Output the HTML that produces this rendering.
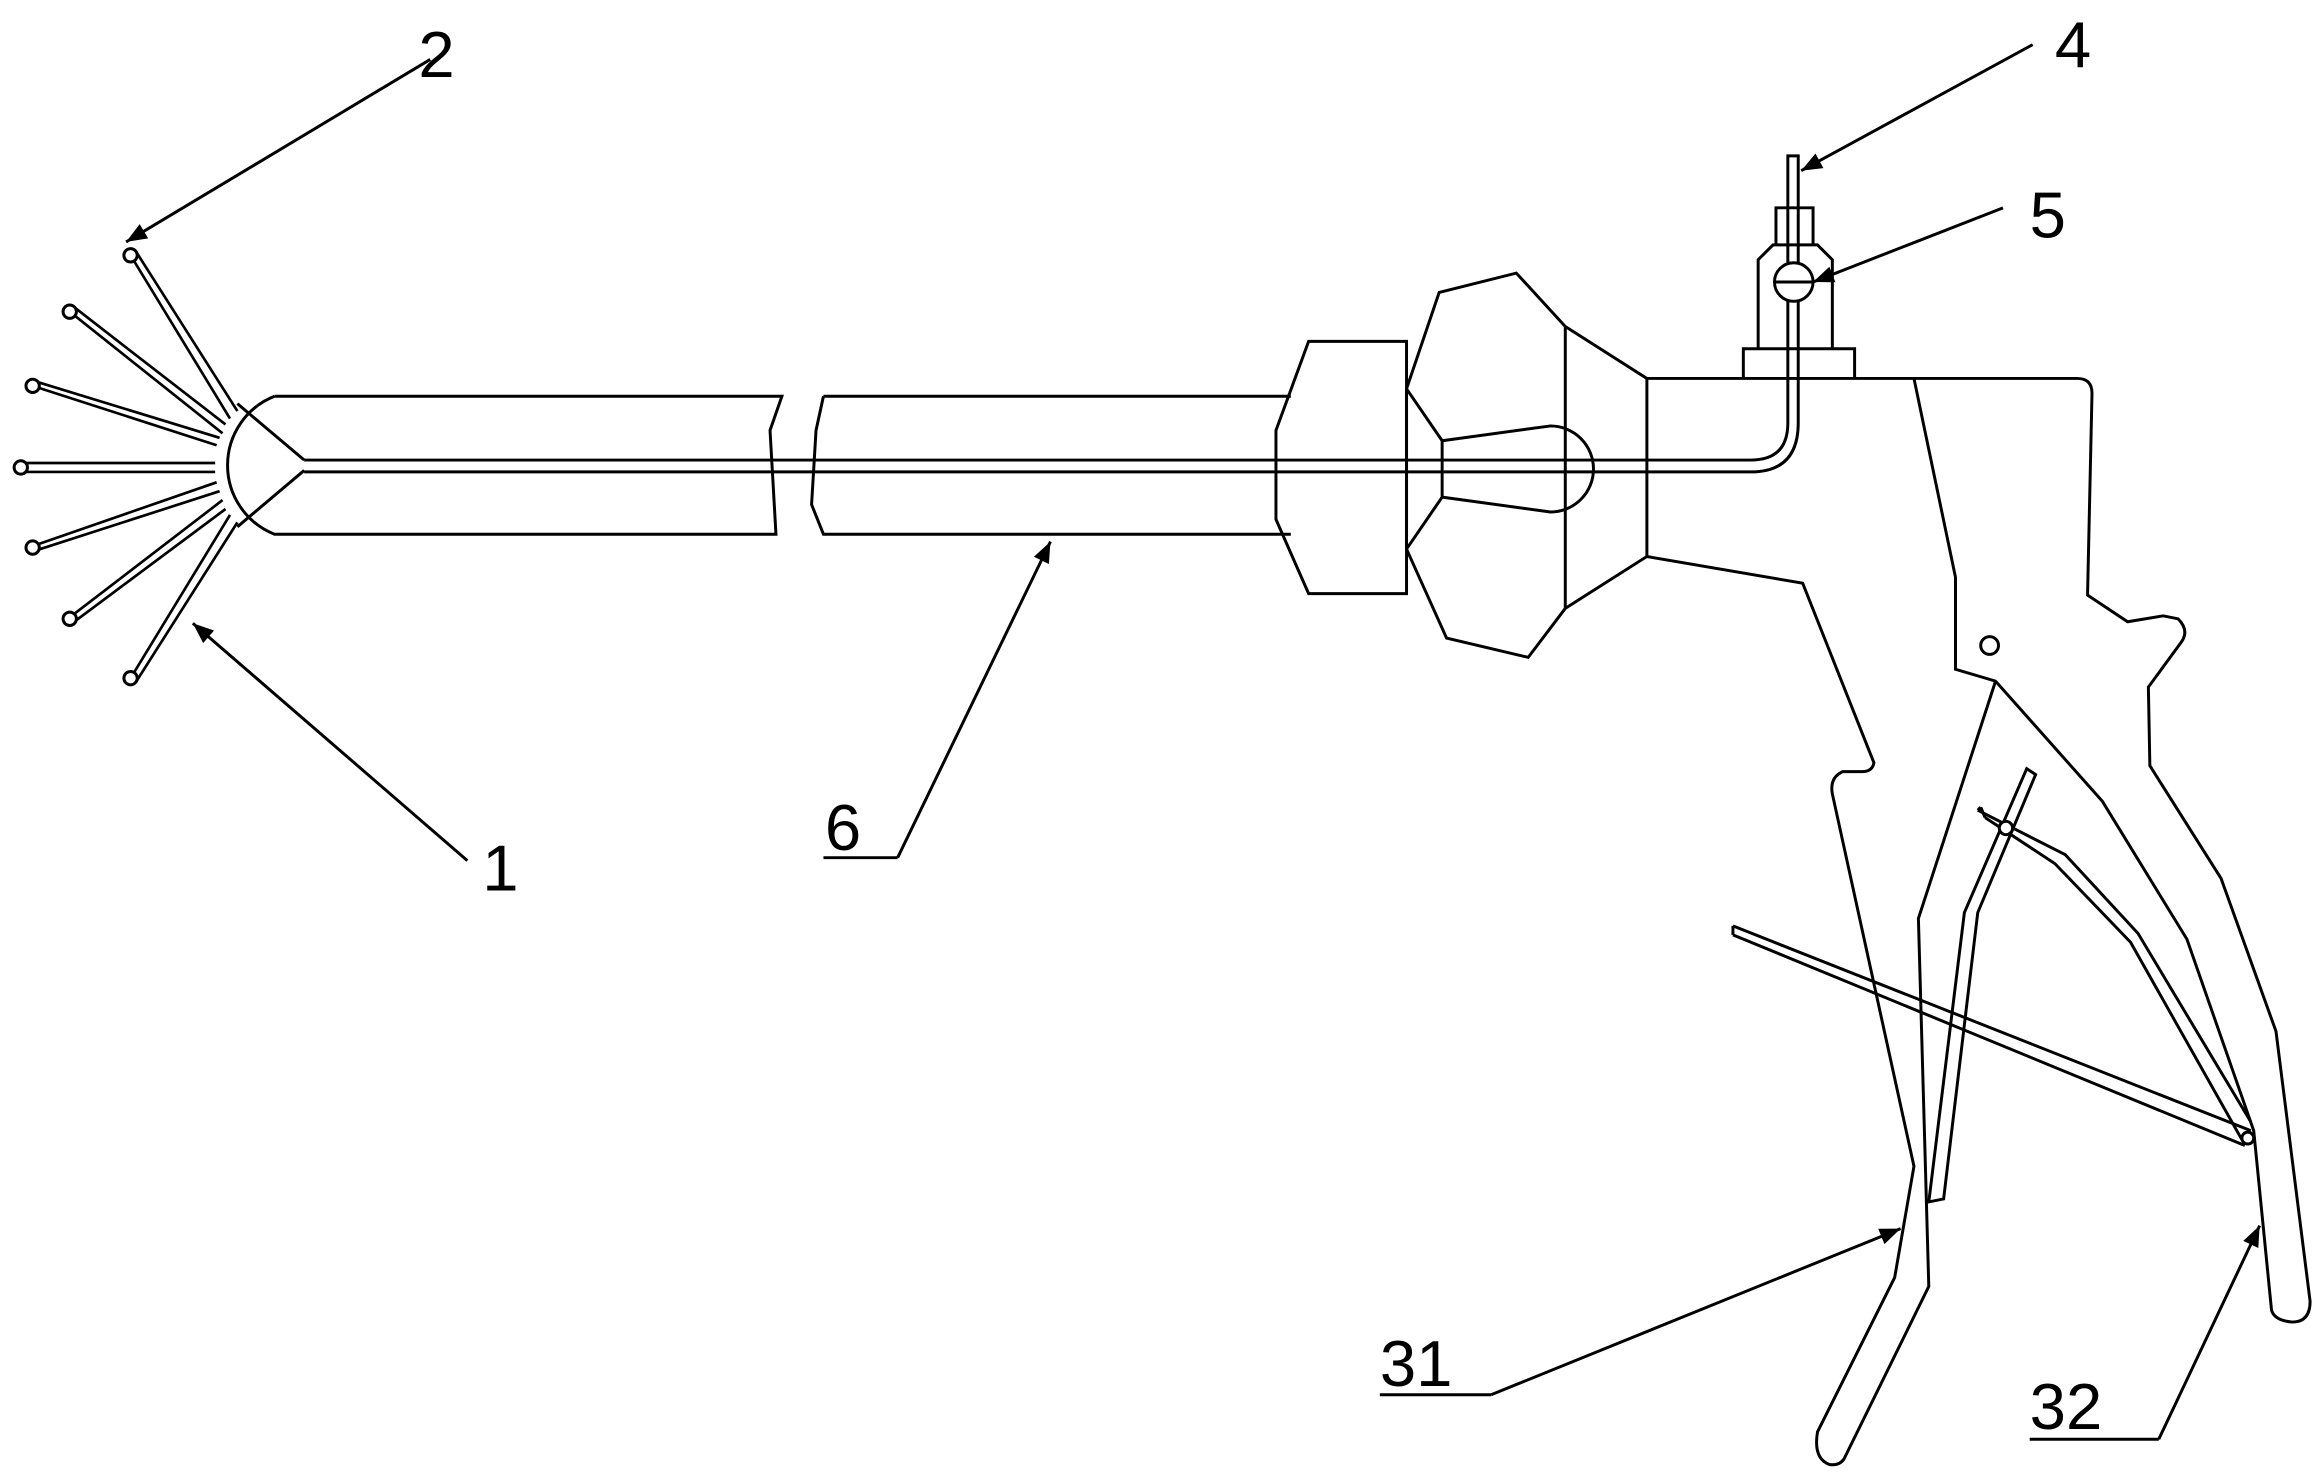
<!DOCTYPE html>
<html><head><meta charset="utf-8"><style>
html,body{margin:0;padding:0;background:#fff;}
svg{display:block}
text{font-family:"Liberation Sans",sans-serif;font-size:44px;fill:#000}
</style></head><body>
<svg width="2319" height="1475" viewBox="0 0 1563 994" xmlns="http://www.w3.org/2000/svg">
<defs><marker id="b" viewBox="0 0 10 10" refX="10" refY="5" markerWidth="24" markerHeight="14" orient="auto" markerUnits="userSpaceOnUse"><path d="M0,1 L10,5 L0,9 z" fill="#000"/></marker></defs>
<g fill="none" stroke="#000" stroke-width="2">
<!-- tube -->
<path d="M185,267 L527,267 L519,290 L523,360 L185,360 A50,50 0 0 1 185,267"/>
<path d="M555,267 L870,267 M870,360 L555,360 L547,340 L550,290 L555,267"/>
<path d="M160,272 L205,310 M160,355 L205,317"/>
<path d="M205,310 L1180,310 Q1205,310 1205,285 L1205,105 L1212,105 L1212,285 Q1212,318 1180,318 L205,318"/>
<!-- wires -->
<g stroke-width="1.8">
<path d="M155,282 L88,172 M160,277 L92,170"/>
<path d="M150,292 L47,210 M152,286 L50,207"/>
<path d="M146,300 L22,260 M148,295 L24,257"/>
<path d="M145,312 L14,312 M145,318 L14,318"/>
<path d="M146,325 L22,368 M148,331 L24,371"/>
<path d="M150,337 L47,416 M152,343 L50,419"/>
<path d="M155,347 L88,457 M160,352 L92,459"/>
</g>
<g fill="#fff"><circle cx="88" cy="172" r="4.5"/><circle cx="47" cy="210" r="4.5"/><circle cx="22" cy="260" r="4.5"/><circle cx="14" cy="315" r="4.5"/><circle cx="22" cy="369" r="4.5"/><circle cx="47" cy="417" r="4.5"/><circle cx="88" cy="457" r="4.5"/></g>
<!-- collar -->
<path d="M882,230 L948,230 L948,400 L882,400 L860,350 L860,290 Z"/>
<!-- knob -->
<path d="M970,197 L1022,184 L1055,220 L1110,255 L1110,375 L1055,410 L1030,443 L975,430 L948,370 L948,262 Z"/>
<path d="M1055,220 L1055,410 M948,262 L972,297 L972,335 L948,370 M972,297 L1045,287 A25,25 0 1 1 1045,345 L972,335"/>
<!-- body -->
<path d="M1110,255 L1400,255 Q1410,255 1410,265 L1407,401 L1434,419 L1458,415 L1468,417 Q1476,425 1470,433 L1448,463 L1449,516 L1497,592 L1534,695 L1557,877 Q1557,891 1545,891 Q1533,890 1531,883 L1519,762 L1474,633 L1417,540 L1345,459 L1318,451 L1318,389 L1290,255"/>
<path d="M1110,375 L1215,393 L1263,514 Q1262,520 1255,520 L1242,520 Q1233,524 1235,535 L1290,786 L1277,861 L1225,965 Q1222,983 1233,987 Q1240,988 1243,983 L1300,867 L1293,619 L1345,459"/>
<circle cx="1341" cy="435" r="6"/>
<!-- rods -->
<path d="M1168,624 L1517,762 M1168,630 L1513,772 M1168,624 L1168,630"/>
<path d="M1333,546 L1392,576 L1441,629 L1517,756 M1335,544 L1338,551 M1338,551 L1385,582 L1436,635 L1511,768 M1333,546 L1335,544"/>
<path d="M1366,518 L1324,615 L1300,810 L1310,808 L1333,615 L1372,522 Z"/>
<circle cx="1352" cy="558" r="4.5" fill="#fff"/><circle cx="1515" cy="767" r="4" fill="#fff"/>
<!-- top fitting -->
<path d="M1175,255 L1175,235 L1250,235 L1250,255 M1185,235 L1185,175 L1195,165 L1225,165 L1235,175 L1235,235 M1197,165 L1197,140 L1222,140 L1222,165"/>
<circle cx="1209" cy="190" r="13" fill="#fff"/><path d="M1196,190 L1222,190"/>
<!-- leaders -->
<path d="M290,40 L85,163" marker-end="url(#b)"/>
<path d="M1370,30 L1214,115" marker-end="url(#b)"/>
<path d="M1350,140 L1222,190" marker-end="url(#b)"/>
<path d="M315,580 L130,420" marker-end="url(#b)"/>
<path d="M605,578 L708,365" marker-end="url(#b)"/>
<path d="M555,578 L605,578"/>
<path d="M1005,940 L1281,828" marker-end="url(#b)"/>
<path d="M930,940 L1005,940"/>
<path d="M1455,970 L1523,826" marker-end="url(#b)"/>
<path d="M1368,970 L1455,970"/>
</g>
<text x="282" y="52">2</text>
<text x="1385" y="45">4</text>
<text x="1368" y="160">5</text>
<text x="325" y="600">1</text>
<text x="556" y="573">6</text>
<text x="930" y="934">31</text>
<text x="1368" y="963">32</text>
</svg>
</body></html>
